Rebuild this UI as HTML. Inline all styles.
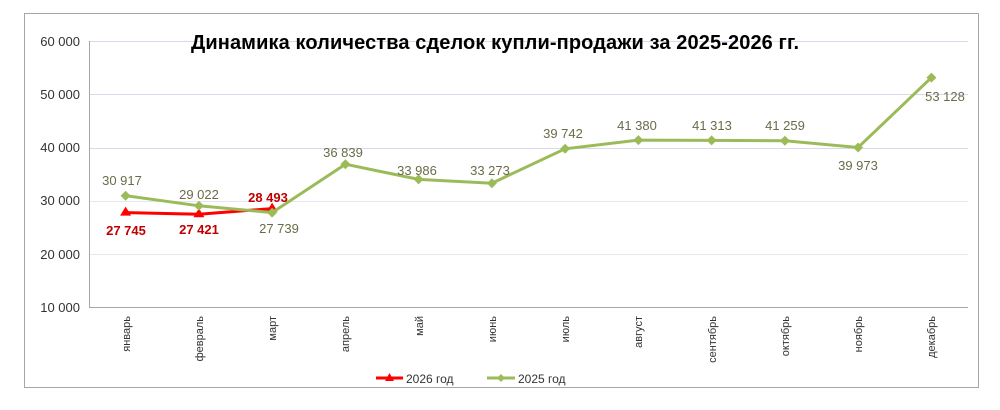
<!DOCTYPE html>
<html><head><meta charset="utf-8"><style>body{margin:0;background:#fff}</style></head><body>
<svg width="1000" height="405" xmlns="http://www.w3.org/2000/svg" font-family="Liberation Sans, Arial, sans-serif">
<rect x="24.5" y="13.5" width="954" height="374" fill="#fff" stroke="#a6a6a6"/>
<g stroke="#d9d9ec" stroke-width="1">
<line x1="89" y1="41.5" x2="968" y2="41.5"/><line x1="89" y1="94.5" x2="968" y2="94.5"/><line x1="89" y1="148.5" x2="968" y2="148.5"/>
<line x1="89" y1="201.5" x2="968" y2="201.5" stroke="#e6e6ee"/><line x1="89" y1="254.5" x2="968" y2="254.5" stroke="#e6e6ee"/>
</g>
<line x1="89.5" y1="41" x2="89.5" y2="307" stroke="#a6a6a6"/>
<line x1="89" y1="307.5" x2="968" y2="307.5" stroke="#a6a6a6"/>
<g font-size="13" fill="#333" text-anchor="end">
<text x="80" y="46">60 000</text><text x="80" y="99">50 000</text><text x="80" y="152">40 000</text><text x="80" y="205">30 000</text><text x="80" y="259">20 000</text><text x="80" y="312">10 000</text>
</g>
<text x="495" y="49" text-anchor="middle" font-size="20" font-weight="bold" fill="#000" textLength="608" lengthAdjust="spacing">Динамика количества сделок купли-продажи за 2025-2026  гг.</text>
<g font-size="11" fill="#333" text-anchor="end">
<text transform="translate(130,316) rotate(-90)">январь</text>
<text transform="translate(203,316) rotate(-90)">февраль</text>
<text transform="translate(276,316) rotate(-90)">март</text>
<text transform="translate(349,316) rotate(-90)">апрель</text>
<text transform="translate(423,316) rotate(-90)">май</text>
<text transform="translate(496,316) rotate(-90)">июнь</text>
<text transform="translate(569,316) rotate(-90)">июль</text>
<text transform="translate(642,316) rotate(-90)">август</text>
<text transform="translate(716,316) rotate(-90)">сентябрь</text>
<text transform="translate(789,316) rotate(-90)">октябрь</text>
<text transform="translate(862,316) rotate(-90)">ноябрь</text>
<text transform="translate(935,316) rotate(-90)">декабрь</text>
</g>
<polyline fill="none" stroke="#ff0000" stroke-width="3" points="125.6,212.6 198.9,214.3 272.1,208.6"/>
<g fill="#ff0000">
<path d="M125.6,206.6l5.5,9h-11z"/><path d="M198.9,208.3l5.5,9h-11z"/><path d="M272.1,202.6l5.5,9h-11z"/>
</g>
<polyline fill="none" stroke="#9bbb59" stroke-width="3" points="125.6,195.7 198.9,205.8 272.1,212.6 345.4,164.2 418.6,179.4 491.9,183.2 565.1,148.8 638.4,140.1 711.6,140.4 784.9,140.7 858.1,147.5 931.4,77.6"/>
<g fill="#9bbb59">
<path d="M125.6,190.7l5,5l-5,5l-5,-5z"/><path d="M198.9,200.8l5,5l-5,5l-5,-5z"/><path d="M272.1,207.6l5,5l-5,5l-5,-5z"/><path d="M345.4,159.2l5,5l-5,5l-5,-5z"/><path d="M418.6,174.4l5,5l-5,5l-5,-5z"/><path d="M491.9,178.2l5,5l-5,5l-5,-5z"/><path d="M565.1,143.8l5,5l-5,5l-5,-5z"/><path d="M638.4,135.1l5,5l-5,5l-5,-5z"/><path d="M711.6,135.4l5,5l-5,5l-5,-5z"/><path d="M784.9,135.7l5,5l-5,5l-5,-5z"/><path d="M858.1,142.5l5,5l-5,5l-5,-5z"/><path d="M931.4,72.6l5,5l-5,5l-5,-5z"/>
</g>
<g font-size="13" fill="#6b6b4a" text-anchor="middle">
<text x="122" y="185">30 917</text><text x="199" y="199">29 022</text><text x="279" y="233">27 739</text><text x="343" y="157">36 839</text><text x="417" y="175">33 986</text><text x="490" y="175">33 273</text><text x="563" y="138">39 742</text><text x="637" y="130">41 380</text><text x="712" y="130">41 313</text><text x="785" y="130">41 259</text><text x="858" y="170">39 973</text><text x="945" y="101">53 128</text>
</g>
<g font-size="13" fill="#c00000" font-weight="bold" text-anchor="middle">
<text x="126" y="235">27 745</text><text x="199" y="234">27 421</text><text x="268" y="202">28 493</text>
</g>
<line x1="376" y1="378" x2="403" y2="378" stroke="#ff0000" stroke-width="3"/><path d="M389.5,373l4.5,8h-9z" fill="#ff0000"/>
<text x="406" y="383" font-size="12" fill="#333">2026 год</text>
<line x1="487" y1="378" x2="515" y2="378" stroke="#9bbb59" stroke-width="3"/><path d="M501,374l4,4l-4,4l-4,-4z" fill="#9bbb59"/>
<text x="518" y="383" font-size="12" fill="#333">2025 год</text>
</svg>
</body></html>
